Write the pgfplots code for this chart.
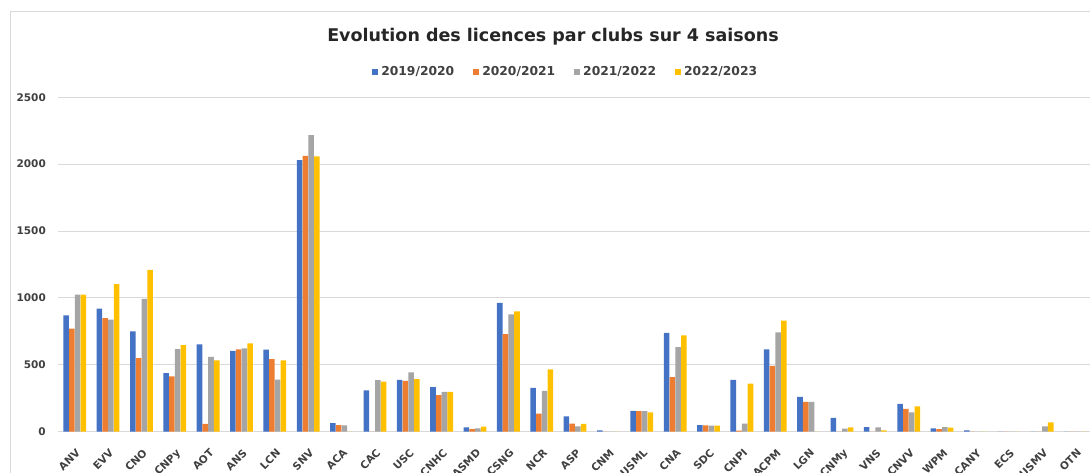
\documentclass[border=0pt]{standalone}
\usepackage{fontspec}
\setmainfont{DejaVu Sans}
\usepackage{pgfplots}
\usepackage{pgfplotstable}
\pgfplotsset{compat=1.18}
\definecolor{cA}{HTML}{4472C4}
\definecolor{cB}{HTML}{ED7D31}
\definecolor{cC}{HTML}{A5A5A5}
\definecolor{cD}{HTML}{FFC000}
\definecolor{gridc}{HTML}{D9D9D9}
\definecolor{txt}{HTML}{404040}
\pgfplotstableread{
x a b c d
0 870 770 1025 1025
1 920 850 838 1103
2 750 550 993 1210
3 438 413 618 648
4 653 58 560 533
5 605 615 623 660
6 613 543 390 533
7 2031 2063 2218 2058
8 65 50 48 0
9 308 0 385 375
10 388 380 443 393
11 333 273 298 298
12 33 20 25 38
13 963 730 878 900
14 328 135 305 465
15 115 60 40 58
16 10 0 0 0
17 155 153 153 145
18 738 408 633 720
19 50 48 45 45
20 388 8 60 360
21 615 493 743 830
22 260 223 223 0
23 103 0 23 33
24 35 0 33 10
25 208 170 145 190
26 25 20 35 30
27 10 0 0 0
28 0 0 0 0
29 0 0 40 70
30 0 0 0 0
}\data
\begin{document}
\begin{tikzpicture}
\draw[gridc, line width=1pt] (10.5pt,-10pt) -- (10.5pt,461.5pt) -- (1100pt,461.5pt);
\node[font=\fontsize{17.5}{20}\selectfont\bfseries, text=black!85, inner sep=0pt] at (553pt,436pt) {Evolution des licences par clubs sur 4 saisons};
\begin{axis}[
  at={(58pt,41.3pt)}, anchor=south west,
  scale only axis, width=1034.2pt, height=334.4pt,
  xmin=-0.5, xmax=30.5, ymin=0, ymax=2500,
  ybar=0.2pt, bar width=5.55pt,
  axis line style={draw=none},
  major tick length=0pt,
  ytick={0,500,1000,1500,2000,2500},
  ymajorgrids, major grid style={gridc, line width=1pt},
  xtick={0,...,30},
  xticklabels={ANV,EVV,CNO,CNPy,AOT,ANS,LCN,SNV,ACA,CAC,USC,CNHC,ASMD,CSNG,NCR,ASP,CNM,USML,CNA,SDC,CNPI,ACPM,LGN,CNMy,VNS,CNVV,WPM,CANY,ECS,USMV,OTN},
  /pgf/number format/assume math mode=true,
  /pgf/number format/1000 sep={},
  tick label style={font=\fontsize{10.5}{12}\selectfont\bfseries, text=txt},
  yticklabel style={anchor=east, inner sep=0pt, xshift=-12pt},
  xticklabel style={rotate=45, anchor=north east, inner sep=0pt, xshift=-11pt, yshift=-12pt},
  legend columns=4,
  legend style={draw=none, fill=none, at={(0.4907,1.0757)}, anchor=center,
    font=\fontsize{12.3}{14}\selectfont\bfseries, text=txt, inner sep=0pt,
    /tikz/every even column/.append style={column sep=16.5pt},
    /tikz/every odd column/.append style={column sep=1.5pt}},
  legend image code/.code={\fill[#1] (0pt,-3pt) rectangle (6pt,3pt);},
]
\addplot[fill=cA, draw=none] table[x=x,y=a]{\data};
\addplot[fill=cB, draw=none] table[x=x,y=b]{\data};
\addplot[fill=cC, draw=none] table[x=x,y=c]{\data};
\addplot[fill=cD, draw=none] table[x=x,y=d]{\data};
\legend{2019/2020,2020/2021,2021/2022,2022/2023}
\end{axis}
\pgfresetboundingbox
\useasboundingbox (0pt,0pt) rectangle (1090pt,473pt);
\end{tikzpicture}
\end{document}
